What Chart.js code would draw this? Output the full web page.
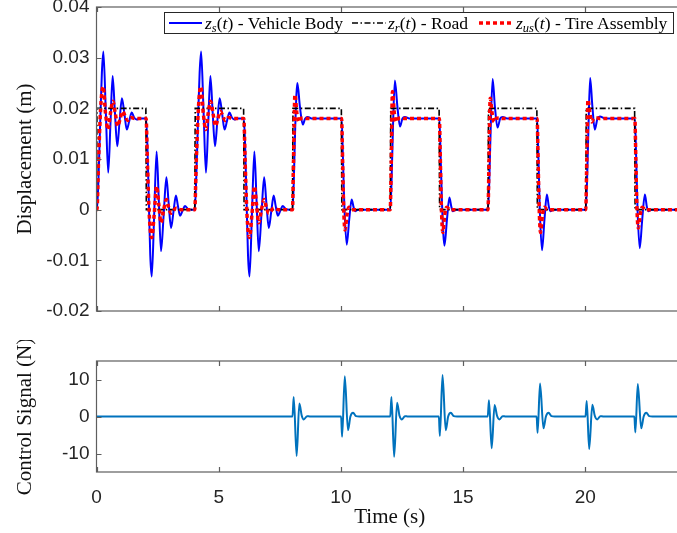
<!DOCTYPE html>
<html>
<head>
<meta charset="utf-8">
<script src="https://cdn.jsdelivr.net/npm/chart.js@4.4.0/dist/chart.umd.min.js"></script>
<style>
  html, body { margin: 0; padding: 0; background: #fff; overflow: hidden; }
  #wrap { position: relative; width: 677px; height: 533px; overflow: hidden; }
  canvas { position: absolute; left: 0; }
  #legend {
    position: absolute; left: 164px; top: 12px; width: 508px; height: 20px;
    border: 1px solid #262626; background: #fff; z-index: 2;
    font-family: "Liberation Serif", "DejaVu Serif", serif; font-size: 17.6px; color: #000;
  }
  #legend .s { position: absolute; top: 4px; }
  #legend .t { position: absolute; top: 0; line-height: 20px; white-space: nowrap; }
  #legend sub { font-size: 12.5px; line-height: 0; vertical-align: -3px; }
</style>
</head>
<body>
<div id="wrap">
  <canvas id="top" width="690" height="340" style="top:0"></canvas>
  <canvas id="bottom" width="690" height="193" style="top:340px"></canvas>
  <div id="legend">
    <svg class="s" style="left:4px" width="33" height="12"><line x1="0" y1="6" x2="33" y2="6" stroke="#0000ff" stroke-width="2"/></svg>
    <span class="t" style="left:40px"><i>z</i><sub><i>s</i></sub>(<i>t</i>) - Vehicle Body</span>
    <svg class="s" style="left:187px" width="34" height="12"><line x1="0" y1="6" x2="34" y2="6" stroke="#000" stroke-width="1.6" stroke-dasharray="6,2.5,1.5,2.5"/></svg>
    <span class="t" style="left:223px"><i>z</i><sub><i>r</i></sub>(<i>t</i>) - Road</span>
    <svg class="s" style="left:314px" width="34" height="12"><line x1="0" y1="6" x2="34" y2="6" stroke="#ff0000" stroke-width="3.5" stroke-dasharray="4,3"/></svg>
    <span class="t" style="left:351px"><i>z</i><sub><i>us</i></sub>(<i>t</i>) - Tire Assembly</span>
  </div>
</div>
<script>
// ---- data ----
// vehicle body z_s(t)
const tBody = [0, 0.02, 0.08, 0.15, 0.22, 0.28, 0.38, 0.48, 0.57, 0.66, 0.75, 0.85, 0.94, 1.04, 1.14, 1.24, 1.34, 1.44, 1.54, 1.64, 1.8, 2.03,
  2.08, 2.14, 2.2, 2.26, 2.36, 2.46, 2.55, 2.64, 2.75, 2.86, 2.95, 3.05, 3.15, 3.25, 3.33, 3.42, 3.52, 3.62, 3.75, 3.9, 4.02,
  4.08, 4.15, 4.22, 4.28, 4.38, 4.48, 4.57, 4.66, 4.75, 4.85, 4.94, 5.04, 5.14, 5.24, 5.34, 5.44, 5.54, 5.64, 5.8, 6.03,
  6.08, 6.14, 6.2, 6.26, 6.36, 6.46, 6.55, 6.64, 6.75, 6.86, 6.95, 7.05, 7.15, 7.25, 7.33, 7.42, 7.52, 7.62, 7.75, 7.9, 8.02,
  8.07, 8.13, 8.22, 8.32, 8.44, 8.54, 8.64, 8.8, 10.03,
  10.08, 10.14, 10.24, 10.34, 10.44, 10.52, 10.58, 10.7, 12.02,
  12.07, 12.13, 12.21, 12.31, 12.42, 12.52, 12.62, 12.8, 14.03,
  14.08, 14.14, 14.24, 14.34, 14.44, 14.52, 14.58, 14.7, 16.02,
  16.07, 16.13, 16.21, 16.3, 16.41, 16.52, 16.62, 16.8, 18.03,
  18.08, 18.14, 18.23, 18.33, 18.43, 18.51, 18.57, 18.7, 20.02,
  20.07, 20.13, 20.2, 20.29, 20.39, 20.5, 20.6, 20.8, 22.03,
  22.08, 22.14, 22.23, 22.33, 22.44, 22.52, 22.58, 22.7, 24];
const zBody = [0, 0, 0.006, 0.017, 0.027, 0.0312, 0.0195, 0.0073, 0.0168, 0.0264, 0.0195, 0.0125, 0.0172, 0.022, 0.019, 0.0158, 0.0175, 0.0192, 0.0182, 0.0178, 0.018, 0.018,
  0.013, 0.002, -0.009, -0.0132, -0.001, 0.0115, 0.0017, -0.0082, -0.0009, 0.0064, 0.0014, -0.0036, -0.0004, 0.0028, 0.0008, -0.0012, -0.0002, 0.0007, 0.0001, 0, 0,
  0.006, 0.017, 0.027, 0.0312, 0.0195, 0.0073, 0.0168, 0.0264, 0.0195, 0.0125, 0.0172, 0.022, 0.019, 0.0158, 0.0175, 0.0192, 0.0182, 0.0178, 0.018, 0.018,
  0.013, 0.002, -0.009, -0.0132, -0.001, 0.0115, 0.0017, -0.0082, -0.0009, 0.0064, 0.0014, -0.0036, -0.0004, 0.0028, 0.0008, -0.0012, -0.0002, 0.0007, 0.0001, 0, 0,
  0.005, 0.016, 0.025, 0.0205, 0.0168, 0.018, 0.0183, 0.018, 0.018,
  0.011, 0.001, -0.0069, -0.002, 0.002, 0.0005, -0.0003, 0, 0,
  0.005, 0.016, 0.0255, 0.0205, 0.0164, 0.018, 0.0183, 0.018, 0.018,
  0.011, 0.001, -0.0071, -0.002, 0.0024, 0.0006, -0.0003, 0, 0,
  0.005, 0.016, 0.0258, 0.0205, 0.0162, 0.018, 0.0183, 0.018, 0.018,
  0.011, 0, -0.008, -0.002, 0.003, 0.0006, -0.0003, 0, 0,
  0.005, 0.016, 0.026, 0.0205, 0.0158, 0.018, 0.0184, 0.018, 0.018,
  0.011, 0, -0.0076, -0.002, 0.003, 0.0006, -0.0003, 0, 0];

// road z_r(t)
const tRoad = [0, 0.02, 2.02, 2.04, 4.02, 4.04, 6.02, 6.04, 8.02, 8.04, 10.02, 10.04, 12.02, 12.04,
  14.02, 14.04, 16.02, 16.04, 18.02, 18.04, 20.02, 20.04, 22.02, 22.04, 24];
const zRoad = [0, 0.02, 0.02, 0, 0, 0.02, 0.02, 0, 0, 0.02, 0.02, 0, 0, 0.02,
  0.02, 0, 0, 0.02, 0.02, 0, 0, 0.02, 0.02, 0, 0];

// tire assembly z_us(t)
const tTire = [0, 0.02, 0.08, 0.17, 0.27, 0.37, 0.47, 0.57, 0.67, 0.77, 0.87, 0.97, 1.07, 1.17, 1.27, 1.4, 1.55, 2.03,
  2.08, 2.14, 2.2, 2.26, 2.36, 2.46, 2.55, 2.64, 2.75, 2.86, 2.95, 3.05, 3.25, 3.45, 4.02,
  4.08, 4.17, 4.27, 4.37, 4.47, 4.57, 4.67, 4.77, 4.87, 4.97, 5.07, 5.17, 5.27, 5.4, 5.55, 6.03,
  6.08, 6.14, 6.2, 6.26, 6.36, 6.46, 6.55, 6.64, 6.75, 6.86, 6.95, 7.05, 7.25, 7.45, 8.02,
  8.06, 8.12, 8.2, 8.28, 8.36, 8.5, 8.6, 10.03,
  10.07, 10.11, 10.17, 10.25, 10.33, 10.45, 12.02,
  12.06, 12.11, 12.19, 12.27, 12.35, 12.5, 12.6, 14.03,
  14.07, 14.11, 14.17, 14.25, 14.33, 14.45, 16.02,
  16.06, 16.11, 16.19, 16.27, 16.35, 16.5, 16.6, 18.03,
  18.07, 18.11, 18.17, 18.25, 18.33, 18.45, 20.02,
  20.06, 20.11, 20.19, 20.27, 20.35, 20.5, 20.6, 22.03,
  22.07, 22.11, 22.17, 22.25, 22.33, 22.45, 24];
const zTire = [0, 0, 0.009, 0.02, 0.0243, 0.019, 0.0158, 0.019, 0.0214, 0.019, 0.0165, 0.018, 0.0194, 0.0185, 0.0176, 0.0182, 0.018, 0.018,
  0.01, 0.001, -0.004, -0.0055, -0.001, 0.0046, 0.001, -0.0026, 0, 0.002, 0.0005, -0.0007, 0.0003, 0, 0,
  0.009, 0.02, 0.0243, 0.019, 0.0158, 0.019, 0.0214, 0.019, 0.0165, 0.018, 0.0194, 0.0185, 0.0176, 0.0182, 0.018, 0.018,
  0.01, 0.001, -0.004, -0.0055, -0.001, 0.0046, 0.001, -0.0026, 0, 0.002, 0.0005, -0.0007, 0.0003, 0, 0,
  0.009, 0.0227, 0.019, 0.0173, 0.018, 0.0181, 0.018, 0.018,
  0.01, 0.001, -0.004, -0.001, 0.0005, 0, 0,
  0.009, 0.0233, 0.019, 0.0173, 0.018, 0.0181, 0.018, 0.018,
  0.01, 0.001, -0.0045, -0.001, 0.0005, 0, 0,
  0.009, 0.022, 0.019, 0.0173, 0.018, 0.0181, 0.018, 0.018,
  0.01, 0.001, -0.0045, -0.001, 0.0005, 0, 0,
  0.009, 0.0217, 0.019, 0.0173, 0.018, 0.0181, 0.018, 0.018,
  0.01, 0.001, -0.0036, -0.001, 0.0005, 0, 0];

// control signal u(t), N
const tCtrl = [0, 8.02, 8.07, 8.19, 8.3, 8.4, 8.48, 8.62, 8.75,
  10.01, 10.05, 10.16, 10.29, 10.39, 10.5, 10.62, 10.75,
  12.02, 12.07, 12.18, 12.3, 12.4, 12.5, 12.62, 12.75,
  14.01, 14.05, 14.16, 14.29, 14.39, 14.5, 14.62, 14.75,
  16.01, 16.06, 16.17, 16.29, 16.39, 16.49, 16.62, 16.75,
  18.01, 18.05, 18.15, 18.29, 18.39, 18.5, 18.62, 18.75,
  20.01, 20.06, 20.16, 20.29, 20.39, 20.49, 20.62, 20.75,
  22.01, 22.05, 22.15, 22.29, 22.39, 22.5, 22.62, 22.75, 24];
const uCtrl = [0, 0, 5.3, -10.7, 3.5, 0.2, -0.8, 0.1, 0,
  0, -5.5, 10.9, -3.7, 0, 1.0, 0.1, 0,
  0, 5.3, -10.9, 3.7, 0.2, -0.8, 0.1, 0,
  0, -5.3, 11.2, -3.7, 0, 1.0, 0.1, 0,
  0, 4.4, -8.6, 3.1, 0.2, -0.8, 0.1, 0,
  0, -4.4, 8.9, -3.2, 0, 1.0, 0.1, 0,
  0, 4.2, -8.8, 3.2, 0.2, -0.8, 0.1, 0,
  0, -4.3, 8.8, -3.2, 0, 1.0, 0.1, 0, 0];

// axes
const xTicks = [0, 5, 10, 15, 20];
const xTickLabels = ['0', '5', '10', '15', '20'];
const yTicksTop = [-0.02, -0.01, 0, 0.01, 0.02, 0.03, 0.04];
const yTickLabelsTop = ['-0.02', '-0.01', '0', '0.01', '0.02', '0.03', '0.04'];
const yTicksBottom = [-10, 0, 10];
const yTickLabelsBottom = ['-10', '0', '10'];

const pts = (t, v) => t.map((x, i) => ({ x: x, y: v[i] }));

const axisColor = '#5e5e5e';
const labelColor = '#262626';
const tickFont = { family: 'Liberation Sans, Arial, sans-serif', size: 19 };
const titleFont = { family: 'Liberation Serif, Times New Roman, serif', size: 21 };

// box + inward tick marks like the original figure
const frame = {
  id: 'frame',
  afterDatasetsDraw(chart, args, opts) {
    const { ctx, chartArea: a, scales: { x, y } } = chart;
    ctx.save();
    ctx.strokeStyle = axisColor;
    ctx.lineWidth = 1.2;
    ctx.beginPath();
    opts.xt.forEach(v => {
      const px = Math.round(x.getPixelForValue(v)) + 0.5;
      ctx.moveTo(px, a.bottom); ctx.lineTo(px, a.bottom - opts.len);
      ctx.moveTo(px, a.top); ctx.lineTo(px, a.top + opts.len);
    });
    opts.yt.forEach(v => {
      const py = Math.round(y.getPixelForValue(v)) + 0.5;
      ctx.moveTo(a.left, py); ctx.lineTo(a.left + opts.len, py);
      ctx.moveTo(a.right, py); ctx.lineTo(a.right - opts.len, py);
    });
    ctx.stroke();
    ctx.strokeRect(a.left, a.top, a.right - a.left, a.bottom - a.top);
    ctx.restore();
  }
};

const yAxis = (min, max, ticks, labels, title) => ({
  type: 'linear', min: min, max: max,
  grid: { display: false, drawTicks: false }, border: { display: false },
  afterBuildTicks: s => { s.ticks = ticks.map(v => ({ value: v })); },
  ticks: { font: tickFont, color: labelColor, padding: 7, callback: v => labels[ticks.indexOf(v)] },
  title: { display: true, text: title, font: titleFont, color: '#111', padding: { top: 13, bottom: 0 } },
  afterFit: s => { s.width = 96.5; s.paddingTop = 0; s.paddingBottom = 0; }
});

const topChart = new Chart(document.getElementById('top').getContext('2d'), {
  type: 'line',
  data: {
    datasets: [
      { label: 'z_us(t) - Tire Assembly', data: pts(tTire, zTire), borderColor: '#ff0000', borderWidth: 3.5,
        borderDash: [4, 3], cubicInterpolationMode: 'monotone', pointRadius: 0, order: 1 },
      { label: 'z_r(t) - Road', data: pts(tRoad, zRoad), borderColor: '#000000', borderWidth: 1.6,
        borderDash: [6, 2.5, 1.5, 2.5], tension: 0, pointRadius: 0, order: 2 },
      { label: 'z_s(t) - Vehicle Body', data: pts(tBody, zBody), borderColor: '#0000ff', borderWidth: 2,
        cubicInterpolationMode: 'monotone', pointRadius: 0, order: 3 }
    ]
  },
  options: {
    responsive: false, animation: false, events: [],
    layout: { padding: { left: 0, right: 7, top: 7, bottom: 0 } },
    plugins: { legend: { display: false }, tooltip: { enabled: false },
      frame: { xt: xTicks, yt: yTicksTop, len: 5 } },
    scales: {
      x: { type: 'linear', min: 0, max: 24, grid: { display: false, drawTicks: false }, border: { display: false },
        ticks: { display: false },
        afterFit: s => { s.height = 29; s.paddingLeft = 0; s.paddingRight = 0; } },
      y: yAxis(-0.02, 0.04, yTicksTop, yTickLabelsTop, 'Displacement (m)')
    }
  },
  plugins: [frame]
});

const bottomChart = new Chart(document.getElementById('bottom').getContext('2d'), {
  type: 'line',
  data: {
    datasets: [
      { label: 'Control Signal', data: pts(tCtrl, uCtrl), borderColor: '#0072bd', borderWidth: 2,
        cubicInterpolationMode: 'monotone', pointRadius: 0 }
    ]
  },
  options: {
    responsive: false, animation: false, events: [],
    layout: { padding: { left: 0, right: 7, top: 21, bottom: 0 } },
    plugins: { legend: { display: false }, tooltip: { enabled: false },
      frame: { xt: xTicks, yt: yTicksBottom, len: 5 } },
    scales: {
      x: { type: 'linear', min: 0, max: 24, grid: { display: false, drawTicks: false }, border: { display: false },
        afterBuildTicks: s => { s.ticks = xTicks.map(v => ({ value: v })); },
        ticks: { font: tickFont, color: labelColor, padding: 14, maxRotation: 0,
          callback: v => xTickLabels[xTicks.indexOf(v)] },
        title: { display: true, text: 'Time (s)', font: titleFont, color: '#111', padding: { top: 0, bottom: 3 } },
        afterFit: s => { s.height = 61; s.paddingLeft = 0; s.paddingRight = 0; } },
      y: yAxis(-15, 15, yTicksBottom, yTickLabelsBottom, 'Control Signal (N)')
    }
  },
  plugins: [frame]
});
</script>
</body>
</html>
